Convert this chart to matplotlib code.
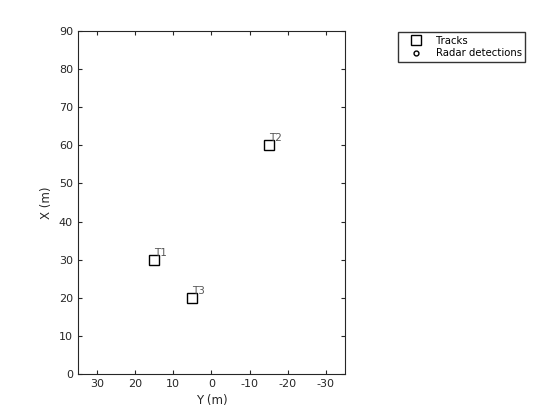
import matplotlib.pyplot as plt

# Track positions (Y is lateral, X is longitudinal)
TRACK_IDS = ["T1", "T2", "T3"]
TRACK_Y = [15, -15, 5]
TRACK_X = [30, 60, 20]

# no detections in this frame
DET_Y = []
DET_X = []

plt.rcParams['font.family'] = ['DejaVu Sans']
plt.rcParams['font.size'] = 8
plt.rcParams['axes.unicode_minus'] = False

fig = plt.figure(figsize=(5.6, 4.2), dpi=100)
ax = fig.add_axes([0.139, 0.1095, 0.477, 0.817])

tracks, = ax.plot(TRACK_Y, TRACK_X, 's', mfc='none', mec='k', ms=6.5, mew=1.0, label='Tracks')
dets, = ax.plot(DET_Y, DET_X, 'o', mfc='none', mec='k', ms=3.5, mew=1.0, label='Radar detections')

for tid, y, x in zip(TRACK_IDS, TRACK_Y, TRACK_X):
    ax.annotate(tid, (y, x), xytext=(0, 1.5), textcoords='offset points',
                ha='left', va='bottom', color='#555555', fontsize=7.5)

ax.set_xlim(35, -35)
ax.set_ylim(0, 90)
ax.set_xticks(range(30, -31, -10))
ax.set_yticks(range(0, 91, 10))
ax.tick_params(direction='in', top=True, right=True, length=3, colors='#262626',
               labelsize=8, labelcolor='#262626')
for s in ax.spines.values():
    s.set_color('#262626')
ax.set_xlabel('Y (m)', color='#262626', fontsize=8.5)
ax.set_ylabel('X (m)', color='#262626', fontsize=8.5)

fig.legend(handles=[tracks, dets], loc='upper left', bbox_to_anchor=(0.701, 0.935),
           frameon=True, fancybox=False, edgecolor='k', fontsize=7.3,
           borderpad=0.35, handlelength=3.0, handletextpad=0.4, labelspacing=0.25)

fig.savefig('out.png', dpi=100)
